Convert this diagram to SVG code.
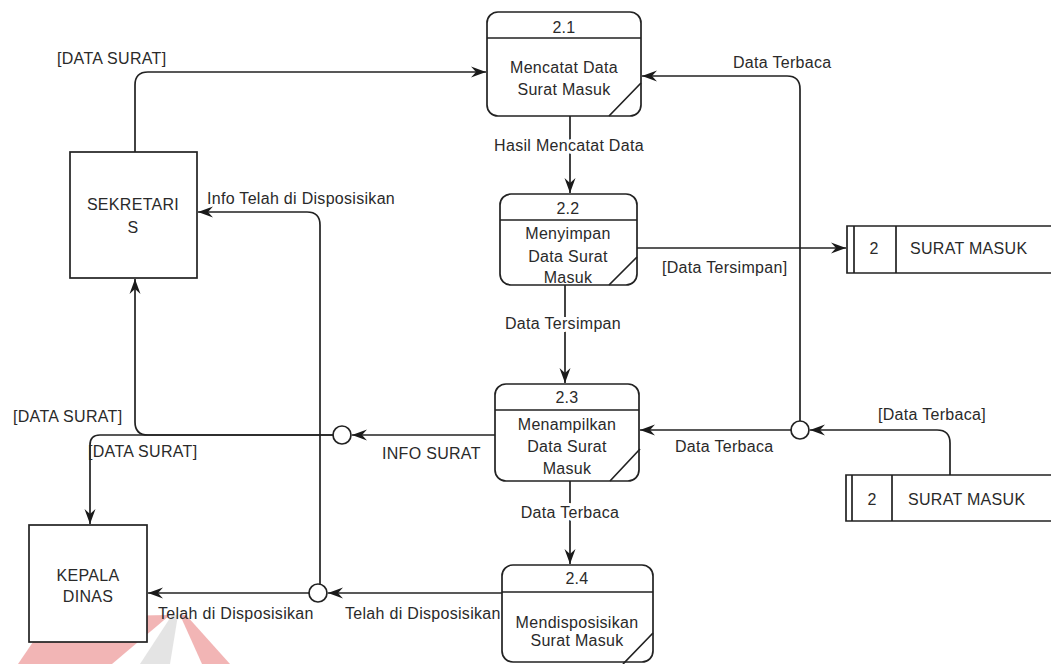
<svg xmlns="http://www.w3.org/2000/svg" width="1051" height="664" viewBox="0 0 1051 664">
  <style>
    text { font-family: "Liberation Sans", Arial, sans-serif; font-size: 16px; fill: #2a2a2a; letter-spacing: 0.3px; }
    .c { text-anchor: middle; }
    .halo { paint-order: stroke; stroke: #ffffff; stroke-width: 6px; stroke-linejoin: round; }
    .box { fill: #ffffff; stroke: #222222; stroke-width: 1.7; }
    .ln { fill: none; stroke: #222222; stroke-width: 1.7; }
    .flow { fill: none; stroke: #222222; stroke-width: 1.7; marker-end: url(#arrow); }
    .junction { fill: #ffffff; stroke: #222222; stroke-width: 1.7; }
  </style>
  <defs>
    <marker id="arrow" markerUnits="userSpaceOnUse" markerWidth="16" markerHeight="12" refX="15" refY="6" orient="auto">
      <path d="M0,0.5 L15,6 L0,11.5 L5,6 z" fill="#1a1a1a"/>
    </marker>
  </defs>

  <rect width="1051" height="664" fill="#ffffff"/>

  <!-- faint logo in the lower left corner -->
  <g id="logo" opacity="0.4">
    <polygon points="50,617 170,615 112,664 18,664" fill="#e04848"/>
    <polygon points="172,615 178,615 170,664 140,664" fill="#bdbdbd"/>
    <polygon points="180,615 186,615 230,664 202,664" fill="#e04848"/>
  </g>

  <!-- connectors -->
  <g id="connectors">
    <path class="flow" d="M135,152 V85 Q135,72 148,72 H486"/>
    <path class="flow" d="M800,421 V89 Q800,76 787,76 H642"/>
    <path class="flow" d="M570,116 V193"/>
    <path class="flow" d="M637,248 H846"/>
    <path class="flow" d="M565,285 V383"/>
    <path class="flow" d="M950,475 V443 Q950,430 937,430 H810"/>
    <path class="flow" d="M791,430 H640"/>
    <path class="flow" d="M495,435 H352"/>
    <path class="flow" d="M333,435 H148 Q135,435 135,422 V279"/>
    <path class="flow" d="M333,435 H100 Q90,435 90,445 V524"/>
    <path class="flow" d="M570,481 V564"/>
    <path class="flow" d="M502,593 H328"/>
    <path class="flow" d="M309,593 H148"/>
    <path class="flow" d="M320,584 V225 Q320,212 307,212 H198"/>
    <circle class="junction" cx="800" cy="430" r="9"/>
    <circle class="junction" cx="342" cy="435" r="9"/>
    <circle class="junction" cx="318" cy="593" r="9"/>
  </g>

  <!-- flow labels -->
  <g id="labels">
    <text x="57" y="64">[DATA SURAT]</text>
    <text x="733" y="68">Data Terbaca</text>
    <text class="c halo" x="569" y="151">Hasil Mencatat Data</text>
    <text x="207" y="204">Info Telah di Disposisikan</text>
    <text x="662" y="273">[Data Tersimpan]</text>
    <text class="c halo" x="563" y="329">Data Tersimpan</text>
    <text x="878" y="420">[Data Terbaca]</text>
    <text x="13" y="422">[DATA SURAT]</text>
    <text x="88" y="457">[DATA SURAT]</text>
    <text x="382" y="459">INFO SURAT</text>
    <text x="675" y="452">Data Terbaca</text>
    <text class="c halo" x="570" y="518">Data Terbaca</text>
    <text x="158" y="619">Telah di Disposisikan</text>
    <text x="345" y="619">Telah di Disposisikan</text>
  </g>

  <!-- external entities -->
  <g id="sekretaris">
    <rect class="box" x="70" y="152" width="127" height="126"/>
    <text class="c" x="133" y="210">SEKRETARI</text>
    <text class="c" x="133" y="233">S</text>
  </g>
  <g id="kepala-dinas">
    <rect class="box" x="29" y="525" width="118" height="117"/>
    <text class="c" x="88" y="581">KEPALA</text>
    <text class="c" x="88" y="602">DINAS</text>
  </g>

  <!-- processes -->
  <g id="p2-1">
    <rect class="box" x="487" y="12" width="154" height="104" rx="11"/>
    <path class="ln" d="M487,38 H641 M609,116 L641,83"/>
    <text class="c" x="564" y="33">2.1</text>
    <text class="c" x="564" y="73">Mencatat Data</text>
    <text class="c" x="564" y="95">Surat Masuk</text>
  </g>
  <g id="p2-2">
    <rect class="box" x="500" y="194" width="137" height="91" rx="11"/>
    <path class="ln" d="M500,220 H637 M609,285 L637,257"/>
    <text class="c" x="568" y="214">2.2</text>
    <text class="c" x="568" y="239">Menyimpan</text>
    <text class="c" x="568" y="262">Data Surat</text>
    <text class="c" x="568" y="283">Masuk</text>
  </g>
  <g id="p2-3">
    <rect class="box" x="495" y="384" width="144" height="97" rx="11"/>
    <path class="ln" d="M495,410 H639 M610,481 L640,449"/>
    <text class="c" x="567" y="403">2.3</text>
    <text class="c" x="567" y="430">Menampilkan</text>
    <text class="c" x="567" y="452">Data Surat</text>
    <text class="c" x="567" y="474">Masuk</text>
  </g>
  <g id="p2-4">
    <rect class="box" x="502" y="565" width="151" height="97" rx="11"/>
    <path class="ln" d="M502,592 H653 M623,664 L653,633"/>
    <text class="c" x="577" y="584">2.4</text>
    <text class="c" x="577" y="628">Mendisposisikan</text>
    <text class="c" x="577" y="646">Surat Masuk</text>
  </g>

  <!-- data stores -->
  <g id="store-surat-masuk-1">
    <path class="ln" d="M1053,226 H847 V273 H1053 M854,226 V273 M896,226 V273"/>
    <text class="c" x="874" y="254">2</text>
    <text x="910" y="254" letter-spacing="1.2">SURAT MASUK</text>
  </g>
  <g id="store-surat-masuk-2">
    <path class="ln" d="M1053,475 H846 V521 H1053 M852,475 V521 M892,475 V521"/>
    <text class="c" x="872" y="505">2</text>
    <text x="908" y="505" letter-spacing="1.2">SURAT MASUK</text>
  </g>
</svg>
